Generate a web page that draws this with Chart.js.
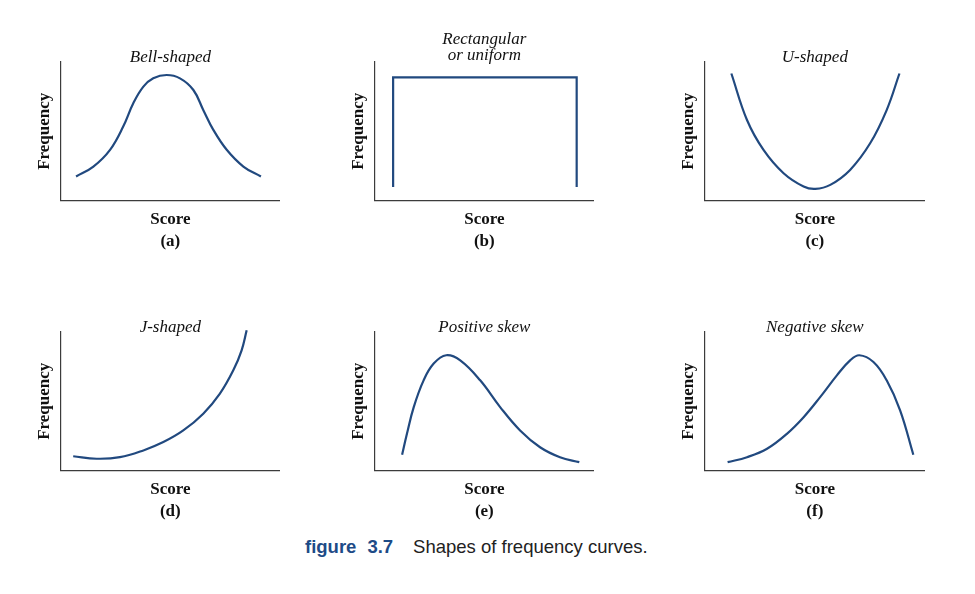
<!DOCTYPE html>
<html>
<head>
<meta charset="utf-8">
<script src="https://cdn.jsdelivr.net/npm/chart.js@4.4.1/dist/chart.umd.min.js"></script>
<style>
  body { margin: 0; background: #fff; width: 975px; height: 594px; position: relative; overflow: hidden; }
  .panel { position: absolute; height: 233px; }
  #caption { position: absolute; left: 305px; top: 536px; line-height: 21px; font-family: 'Liberation Sans', Arial, sans-serif; font-size: 18.5px; color: #222; white-space: pre; }
  #caption b { color: #1d4b87; }
</style>
</head>
<body>
<div class="panel" style="left:30px;top:20px;width:250px"><canvas id="pa"></canvas></div>
<div class="panel" style="left:344px;top:20px;width:250px"><canvas id="pb"></canvas></div>
<div class="panel" style="left:674px;top:20px;width:251px"><canvas id="pc"></canvas></div>
<div class="panel" style="left:30px;top:290px;width:250px"><canvas id="pd"></canvas></div>
<div class="panel" style="left:344px;top:290px;width:250px"><canvas id="pe"></canvas></div>
<div class="panel" style="left:674px;top:290px;width:251px"><canvas id="pf"></canvas></div>
<div id="caption"><b>figure</b><b style="margin-left:11px">3.7</b><span style="margin-left:20px">Shapes of frequency curves.</span></div>

<script>
// score (x) and frequency (y), both on a 0-100 scale
const bellScore = [7, 14.9, 22.5, 28.5, 33.1, 37.7, 42.2, 48.3, 54.4, 60.5, 65, 69.6, 75.7, 83.3, 91.3];
const bellFreq  = [17.3, 24.5, 36.6, 53.4, 70.2, 82.2, 88.2, 90.6, 88.2, 79.8, 65.4, 51, 36.6, 24.5, 17.3];

const rectScore = [8.4, 8.4, 92.1, 92.1];
const rectFreq  = [9.7, 88.9, 88.9, 9.7];

const uScore = [12.1, 19.2, 26.7, 35.8, 44.9, 50.2, 57, 66, 75.1, 82.6, 88.4];
const uFreq  = [91.7, 58.1, 36.5, 19.7, 10.1, 8.4, 11.3, 22.1, 41.3, 65.3, 91.7];

const jScore = [5.7, 16.4, 27, 37.7, 46.8, 55.9, 65, 72.6, 78.7, 82.5, 84.8];
const jFreq  = [10.3, 8.5, 9.6, 14.5, 20.5, 28.9, 41, 55.5, 72.3, 86.8, 101.2];

const posScore = [12.5, 14.7, 17.8, 22.3, 26.9, 32.6, 39, 48.1, 57.2, 66.3, 75.4, 84.5, 93.3];
const posFreq  = [11.4, 26.5, 45.8, 65.1, 77.2, 83.2, 79.5, 65.1, 45.8, 28.9, 16.8, 9.6, 6];

const negScore = [10.4, 19.2, 28.3, 37.3, 44.9, 52.4, 60, 66, 70.2, 76.6, 82.6, 88.7, 94.7];
const negFreq  = [6, 9.6, 15.7, 26.5, 38.5, 53, 68.7, 79.5, 83.2, 78.3, 65.1, 43.4, 11.4];

const titles  = ['Bell-shaped', ['Rectangular', 'or uniform'], 'U-shaped', 'J-shaped', 'Positive skew', 'Negative skew'];
const letters = ['(a)', '(b)', '(c)', '(d)', '(e)', '(f)'];

const lineColor = '#21497f';
const axisColor = '#3c3c3c';
Chart.defaults.font.family = "'Liberation Serif', 'Times New Roman', serif";
Chart.defaults.color = '#111';

function pts(xs, ys) {
  return xs.map((x, i) => ({ x: x, y: ys[i] }));
}

function panel(id, i, xs, ys, straight) {
  const twoLines = Array.isArray(titles[i]);
  return new Chart(document.getElementById(id), {
    type: 'line',
    data: {
      datasets: [{
        data: pts(xs, ys),
        borderColor: lineColor,
        borderWidth: 2.2,
        pointRadius: 0,
        tension: straight ? 0 : 0.4,
        borderJoinStyle: 'miter',
        clip: false
      }]
    },
    options: {
      responsive: true,
      maintainAspectRatio: false,
      animation: false,
      layout: { autoPadding: false, padding: 0 },
      plugins: {
        legend: { display: false },
        tooltip: { enabled: false },
        title: {
          display: true,
          fullSize: false,
          text: titles[i],
          font: { size: 17, style: 'italic', weight: 'normal', lineHeight: '16px' },
          padding: twoLines ? { top: 12, bottom: -2 } : { top: 30, bottom: -4 }
        },
        subtitle: {
          display: true,
          fullSize: false,
          position: 'bottom',
          text: letters[i],
          font: { size: 17, weight: 'bold', lineHeight: '18px' },
          padding: { top: 4.5, bottom: 2 }
        }
      },
      scales: {
        x: {
          type: 'linear', min: 0, max: 100,
          grid: { display: false, drawTicks: false },
          ticks: { display: false },
          border: { color: axisColor, width: 1.2 },
          title: { display: true, text: 'Score', font: { size: 17, weight: 'bold', lineHeight: '18px' }, padding: { top: 10, bottom: 0 } }
        },
        y: {
          type: 'linear', min: 0, max: 100,
          grid: { display: false, drawTicks: false },
          ticks: { display: false },
          border: { color: axisColor, width: 1.2 },
          title: { display: true, text: 'Frequency', font: { size: 17, weight: 'bold', lineHeight: '18px' }, padding: { top: 6, bottom: 6.7 } }
        }
      }
    }
  });
}

panel('pa', 0, bellScore, bellFreq, false);
panel('pb', 1, rectScore, rectFreq, true);
panel('pc', 2, uScore, uFreq, false);
panel('pd', 3, jScore, jFreq, false);
panel('pe', 4, posScore, posFreq, false);
panel('pf', 5, negScore, negFreq, false);
</script>
</body>
</html>
